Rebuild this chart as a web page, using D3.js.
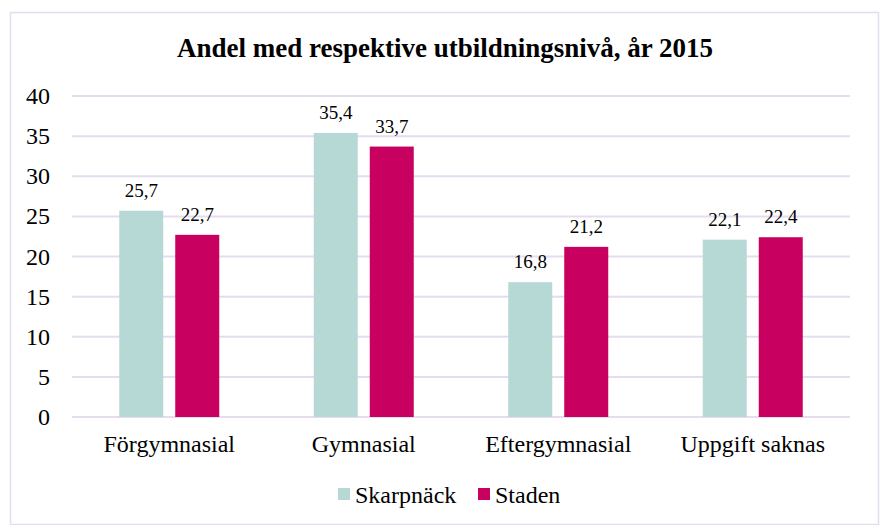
<!DOCTYPE html>
<html>
<head>
<meta charset="utf-8">
<script src="https://cdn.jsdelivr.net/npm/d3@7"></script>
<style>
  body { margin: 0; background: #fff; }
  svg { font-family: "Liberation Serif", "Times New Roman", serif; }
</style>
</head>
<body>
<div id="chart"></div>
<script>
// data
var categories = ["Förgymnasial", "Gymnasial", "Eftergymnasial", "Uppgift saknas"];
var seriesNames = ["Skarpnäck", "Staden"];
var skarpnack = [25.7, 35.4, 16.8, 22.1];
var staden = [22.7, 33.7, 21.2, 22.4];
var yTicks = [0, 5, 10, 15, 20, 25, 30, 35, 40];
var colors = ["#b6d9d6", "#c8005f"];

var width = 882, height = 525;
var plotLeft = 72, plotRight = 850, plotTop = 96, plotBottom = 417;

var svg = d3.select("#chart").append("svg")
	.attr("width", width)
	.attr("height", height);

// frame
svg.append("rect")
	.attr("x", 10.5).attr("y", 12.5)
	.attr("width", 868).attr("height", 512)
	.attr("fill", "#fff")
	.attr("stroke", "#e6dcf0")
	.attr("stroke-width", 1.5);

svg.append("text")
	.attr("x", 445).attr("y", 57)
	.attr("text-anchor", "middle")
	.attr("font-size", 27)
	.attr("font-weight", "bold")
	.text("Andel med respektive utbildningsnivå, år 2015");

var x = d3.scaleBand().domain(categories).range([plotLeft, plotRight]);
var y = d3.scaleLinear().domain([0, 40]).range([plotBottom, plotTop]);

// grid
svg.append("g").selectAll("line")
	.data(yTicks)
	.enter().append("line")
	.attr("x1", plotLeft).attr("x2", plotRight)
	.attr("y1", function(d){ return y(d); })
	.attr("y2", function(d){ return y(d); })
	.attr("stroke", "#e6dcf0")
	.attr("stroke-width", 2);

// y labels
svg.append("g").selectAll("text")
	.data(yTicks)
	.enter().append("text")
	.attr("x", 50)
	.attr("y", function(d){ return y(d) + 8; })
	.attr("text-anchor", "end")
	.attr("font-size", 24)
	.text(function(d){ return d; });

var barW = 44, gap = 12;
var series = [skarpnack, staden];

series.forEach(function(vals, s){
	var g = svg.append("g");
	g.selectAll("rect")
		.data(vals)
		.enter().append("rect")
		.attr("x", function(d, i){
			var c = x(categories[i]) + x.bandwidth() / 2;
			return s == 0 ? c - gap / 2 - barW : c + gap / 2;
		})
		.attr("y", function(d){ return y(d); })
		.attr("width", barW)
		.attr("height", function(d){ return plotBottom - y(d); })
		.attr("fill", colors[s]);
	g.selectAll("text")
		.data(vals)
		.enter().append("text")
		.attr("x", function(d, i){
			var c = x(categories[i]) + x.bandwidth() / 2;
			return s == 0 ? c - gap / 2 - barW / 2 : c + gap / 2 + barW / 2;
		})
		.attr("y", function(d){ return y(d) - 14; })
		.attr("text-anchor", "middle")
		.attr("font-size", 19)
		.text(function(d){ return d.toFixed(1).replace(".", ","); });
});

// category labels
svg.append("g").selectAll("text")
	.data(categories)
	.enter().append("text")
	.attr("x", function(d){ return x(d) + x.bandwidth() / 2; })
	.attr("y", 452)
	.attr("text-anchor", "middle")
	.attr("font-size", 24)
	.text(function(d){ return d; });

// legend
var legendX = [338, 478];
var legend = svg.append("g").selectAll("g")
	.data(seriesNames)
	.enter().append("g")
	.attr("transform", function(d, i){ return "translate(" + legendX[i] + ",503)"; });
legend.append("rect")
	.attr("x", 0).attr("y", -15)
	.attr("width", 12).attr("height", 12)
	.attr("fill", function(d, i){ return colors[i]; });
legend.append("text")
	.attr("x", 17).attr("y", 0)
	.attr("font-size", 24)
	.text(function(d){ return d; });
</script>
</body>
</html>
